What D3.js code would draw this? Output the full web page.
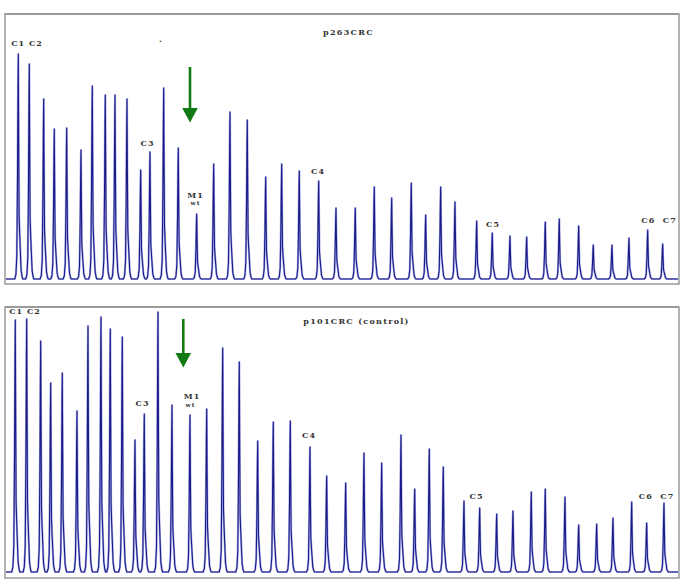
<!DOCTYPE html>
<html>
<head>
<meta charset="utf-8">
<script src="https://cdn.jsdelivr.net/npm/d3@7"></script>
<style>
  body { margin: 0; background: #fff; }
  svg { display: block; }
</style>
</head>
<body>
<svg id="chart"></svg>
<script>
// peak positions (scan position) and heights (signal units)
const topPos = [18.3, 29.3, 43.7, 54.3, 66.7, 81, 92.3, 105.3, 115, 127, 140.7, 150, 163.7, 178.3, 196.7, 213.7,
    230, 247.3, 265.7, 281.7, 299.3, 318.7, 336, 355.3, 374.3, 391.7, 411.3, 425.7, 440.7, 455, 476.7, 492.3,
    510, 526.7, 545.3, 559.3, 578.7, 593.3, 612, 629, 647.7, 662.7];
const topHeight = [225, 215, 180, 150, 151, 129, 193, 184, 184, 180, 109, 127, 191, 131, 65, 115,
    167, 159, 102, 115, 108, 98, 71, 71, 92, 81, 96, 64, 92, 77, 58, 46,
    43, 42, 57, 60, 53, 34, 34, 41, 49, 35];

const bottomPos = [15.3, 26.7, 40.7, 50.7, 62.3, 77, 88, 101, 110.3, 122.3, 135, 144.3, 158, 172, 190, 206.7,
    222.7, 239.3, 257.7, 273.3, 290.3, 310, 326.7, 345.7, 364, 381.7, 401, 414.7, 429.3, 443.3, 464, 479.7,
    496.7, 513, 531.3, 545.3, 565, 578.7, 596.7, 613, 631.7, 646.7, 664];
const bottomHeight = [252, 253, 231, 189, 199, 161, 246, 255, 243, 235, 132, 158, 260, 167, 157, 163,
    224, 210, 131, 150, 151, 125, 96, 89, 119, 109, 137, 83, 123, 105, 71, 64,
    58, 61, 80, 83, 75, 47, 48, 54, 70, 49, 69];

const titles = ["p263CRC", "p101CRC (control)"];

// annotation text: [text, position, height]
const topLabels = [["C1 C2", 27, 233], [".", 161, 237], ["C3", 147.5, 133], ["M1", 195.5, 81],
    ["wt", 195.5, 74], ["C4", 318, 105], ["C5", 493, 52], ["C6  C7", 659, 56]];
const bottomLabels = [["C1 C2", 25, 258], ["C3", 142.5, 166], ["M1", 192, 173], ["wt", 190.5, 165],
    ["C4", 309, 134], ["C5", 476.5, 73], ["C6  C7", 656.5, 73]];

const titleSpot = [[348.5, 244], [356.5, 248]];
// arrows: [position, tail height, tip height]
const arrows = [[190, 212, 156.5], [183.3, 253, 204.5]];

const width = 686, height = 587;
const svg = d3.select("#chart").attr("width", width).attr("height", height);

const panels = [
    {top: 14, bottom: 284, base: 279, pos: topPos, h: topHeight, labels: topLabels},
    {top: 307, bottom: 578, base: 572, pos: bottomPos, h: bottomHeight, labels: bottomLabels}
];

const left = 5, right = 679;
const xScale = d3.scaleLinear().domain([left, right]).range([left, right]);

// glyph of one peak: [dx in px, fraction of height]
const peakShape = [[-3.6, 0], [-2.4, 0.02], [-1.5, 0.1], [-0.8, 0.45], [-0.3, 0.85], [0, 1], [0.4, 0.6],
    [0.8, 0.28], [1.3, 0.21], [2, 0.13], [2.8, 0.04], [3.8, 0.01], [4.6, 0]];

const line = d3.line();

panels.forEach((p, i) => {
    const yScale = d3.scaleLinear().domain([0, 265]).range([p.base, p.top]);
    const g = svg.append("g");

    g.append("rect")
        .attr("x", left).attr("y", p.top)
        .attr("width", right - left).attr("height", p.bottom - p.top)
        .attr("fill", "none").attr("stroke", "#9a9a9a").attr("stroke-width", 1.5);
    g.append("line")
        .attr("x1", left).attr("x2", right).attr("y1", p.top).attr("y2", p.top)
        .attr("stroke", "#9a9a9a").attr("stroke-width", 2.2);

    const pts = [[xScale(left) + 1, yScale(0)]];
    p.pos.forEach((x, k) => {
        const cx = xScale(x);
        peakShape.forEach(([dx, f]) => pts.push([cx + dx, yScale(f * p.h[k])]));
    });
    pts.push([xScale(right) - 1, yScale(0)]);

    g.append("path").attr("d", line(pts))
        .attr("fill", "none").attr("stroke", "#aab0e8").attr("stroke-width", 2.2)
        .attr("stroke-linejoin", "round");
    g.append("path").attr("d", line(pts))
        .attr("fill", "none").attr("stroke", "#1a1a86").attr("stroke-width", 1.1)
        .attr("stroke-linejoin", "round");

    g.append("text")
        .attr("x", xScale(titleSpot[i][0])).attr("y", yScale(titleSpot[i][1]))
        .attr("text-anchor", "middle")
        .style("font-family", "DejaVu Serif").style("font-weight", "bold")
        .style("font-size", "8px").style("letter-spacing", "1.3px").attr("fill", "#333")
        .text(titles[i]);

    g.selectAll(".lab")
        .data(p.labels)
        .join("text")
        .attr("class", "lab")
        .attr("x", d => xScale(d[1])).attr("y", d => yScale(d[2]))
        .attr("text-anchor", "middle")
        .style("font-family", "DejaVu Serif").style("font-weight", "bold")
        .style("font-size", d => d[0] === "wt" ? "6px" : "8px")
        .style("letter-spacing", "1px").style("white-space", "pre").attr("fill", "#333")
        .text(d => d[0]);

    const [ax, a0, a1] = arrows[i];
    const tipY = yScale(a1), headY = tipY - 14.5;
    g.append("line")
        .attr("x1", xScale(ax)).attr("x2", xScale(ax))
        .attr("y1", yScale(a0)).attr("y2", headY + 1)
        .attr("stroke", "#127a12").attr("stroke-width", 2.6);
    g.append("path")
        .attr("d", `M${xScale(ax) - 7.8},${headY} L${xScale(ax) + 7.8},${headY} L${xScale(ax)},${tipY} Z`)
        .attr("fill", "#127a12");
});
</script>
</body>
</html>
